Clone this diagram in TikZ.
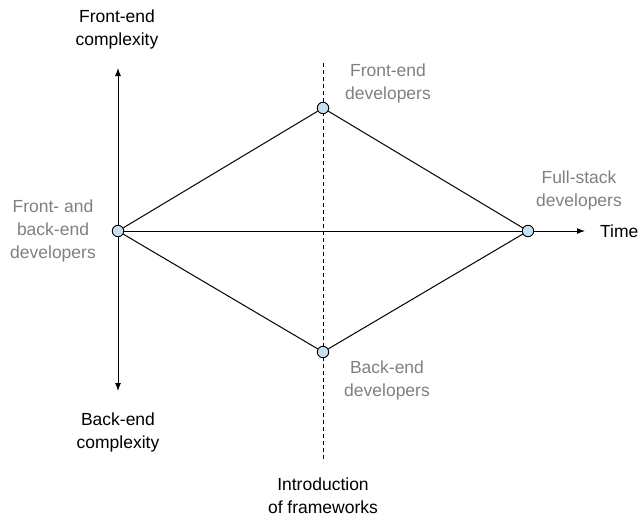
\documentclass[tikz,border=0pt]{standalone}
\usepackage{fontspec}
\setmainfont{Liberation Sans}
\usetikzlibrary{arrows.meta}
\definecolor{dotfill}{RGB}{197,224,242}
\definecolor{labelgray}{RGB}{128,128,128}
\begin{document}
\begin{tikzpicture}[x=1pt,y=-1pt,
  dot/.style={circle,draw=black,fill=dotfill,line width=0.9pt,minimum size=11.5pt,inner sep=0pt},
  lbl/.style={align=center,font=\fontsize{17.5}{23}\selectfont,inner sep=0pt},
  glbl/.style={lbl,text=labelgray},
  arrowline/.style={line width=1pt,-{Latex[length=8pt,width=6pt]}},
  twoway/.style={line width=1pt,{Latex[length=8pt,width=6pt]}-{Latex[length=8pt,width=6pt]}},
  link/.style={line width=1pt},
  divider/.style={line width=0.9pt,dash pattern=on 4pt off 3pt}]
\useasboundingbox (0,0) rectangle (641,517);
\coordinate (ftop) at (118,68);
\coordinate (fbot) at (118,391);
\coordinate (tend) at (585,231);
\coordinate (dtop) at (323,63);
\coordinate (dbot) at (323,462);
\coordinate (lc) at (118,231);
% background lines
\draw[divider] (dtop) -- (dbot);
\draw[twoway] (ftop) -- (fbot);
% points
\node[dot] (L) at (lc) {};
\node[dot] (T) at (323,108) {};
\node[dot] (R) at (528,231) {};
\node[dot] (B) at (323,352) {};
% connectors
\draw[link] (L) -- (T);
\draw[link] (T) -- (R);
\draw[link] (L) -- (B);
\draw[link] (B) -- (R);
\draw[link] (L) -- (R);
\draw[arrowline] (R) -- (tend);
% labels
\node[lbl] (fec) at (117,29) {Front-end\\complexity};
\node[lbl] (bec) at (118,432) {Back-end\\complexity};
\node[glbl] (fbd) at (53,231) {Front- and\\back-end\\developers};
\node[glbl] (fed) at (388,83) {Front-end\\developers};
\node[glbl] (fsd) at (579,190) {Full-stack\\developers};
\node[glbl] (bed) at (387,380) {Back-end\\developers};
\node[lbl,anchor=west] (time) at (600,231) {Time};
\node[lbl] (intro) at (323,496) {Introduction\\of frameworks};
\end{tikzpicture}
\end{document}
